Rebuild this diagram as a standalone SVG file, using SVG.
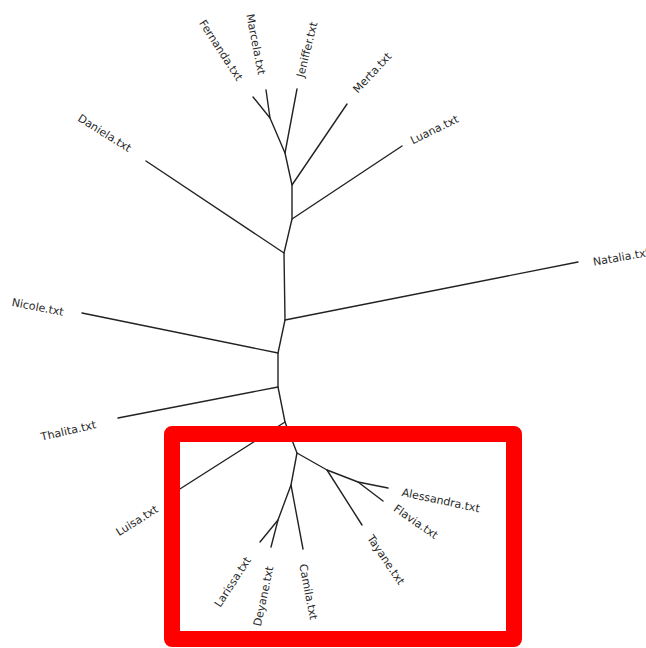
<svg xmlns="http://www.w3.org/2000/svg" width="646" height="648" viewBox="0 0 646 648">
<style>
.e{stroke:#222;stroke-width:1.4;fill:none;stroke-linecap:round;stroke-linejoin:round}
.t{font-family:"DejaVu Sans","Verdana",sans-serif;font-size:11px;fill:#2a2a2a}
</style>
<rect width="646" height="648" fill="#fff"/>
<g id="connectors" class="e">
<polyline points="253,97 270,118 285,153 292,185 292,219 284,253 285,320 278,353 278,387 285,422 297,453 327,470 358,482 388,488"/>
<line x1="266" y1="90" x2="270" y2="118"/>
<line x1="297" y1="89" x2="285" y2="153"/>
<line x1="347" y1="104" x2="292" y2="185"/>
<line x1="402" y1="146" x2="292" y2="219"/>
<line x1="146" y1="161" x2="284" y2="253"/>
<line x1="578" y1="262" x2="285" y2="320"/>
<line x1="82" y1="313" x2="278" y2="353"/>
<line x1="118" y1="418" x2="278" y2="387"/>
<line x1="172" y1="494" x2="285" y2="422"/>
<polyline points="297,453 291,485 278,520 271,547"/>
<line x1="278" y1="520" x2="260" y2="542"/>
<line x1="291" y1="485" x2="303" y2="549"/>
<line x1="327" y1="470" x2="362" y2="525"/>
<line x1="358" y1="482" x2="383" y2="501"/>
</g>
<g id="Fernanda"><text class="t" dy="0.35em" transform="translate(202,21) rotate(57)">Fernanda.txt</text></g>
<g id="Marcela"><text class="t" dy="0.35em" transform="translate(250,14) rotate(79)">Marcela.txt</text></g>
<g id="Jeniffer"><text class="t" dy="0.35em" transform="translate(300,77) rotate(-76)">Jeniffer.txt</text></g>
<g id="Merta"><text class="t" dy="0.35em" transform="translate(355,91) rotate(-47)">Merta.txt</text></g>
<g id="Luana"><text class="t" dy="0.35em" transform="translate(411,141) rotate(-26)">Luana.txt</text></g>
<g id="Daniela"><text class="t" dy="0.35em" transform="translate(79,117) rotate(32)">Daniela.txt</text></g>
<g id="Natalia"><text class="t" dy="0.35em" transform="translate(593,262) rotate(-10)">Natalia.txt</text></g>
<g id="Nicole"><text class="t" dy="0.35em" transform="translate(12,302) rotate(11)">Nicole.txt</text></g>
<g id="Thalita"><text class="t" dy="0.35em" transform="translate(41,437) rotate(-13)">Thalita.txt</text></g>
<g id="Luisa"><text class="t" dy="0.35em" transform="translate(117,533) rotate(-32)">Luisa.txt</text></g>
<g id="Larissa"><text class="t" dy="0.35em" transform="translate(217,606) rotate(-57)">Larissa.txt</text></g>
<g id="Deyane"><text class="t" dy="0.35em" transform="translate(257,626) rotate(-78)">Deyane.txt</text></g>
<g id="Camila"><text class="t" dy="0.35em" transform="translate(303,564) rotate(79)">Camila.txt</text></g>
<g id="Tayane"><text class="t" dy="0.35em" transform="translate(370,536) rotate(56)">Tayane.txt</text></g>
<g id="Flavia"><text class="t" dy="0.35em" transform="translate(395,507) rotate(35)">Flavia.txt</text></g>
<g id="Alessandra"><text class="t" dy="0.35em" transform="translate(402,492) rotate(12)">Alessandra.txt</text></g>
<rect id="highlight" x="172" y="434" width="342" height="205" fill="none" stroke="#ff0000" stroke-width="16" stroke-linejoin="round"/>
</svg>
